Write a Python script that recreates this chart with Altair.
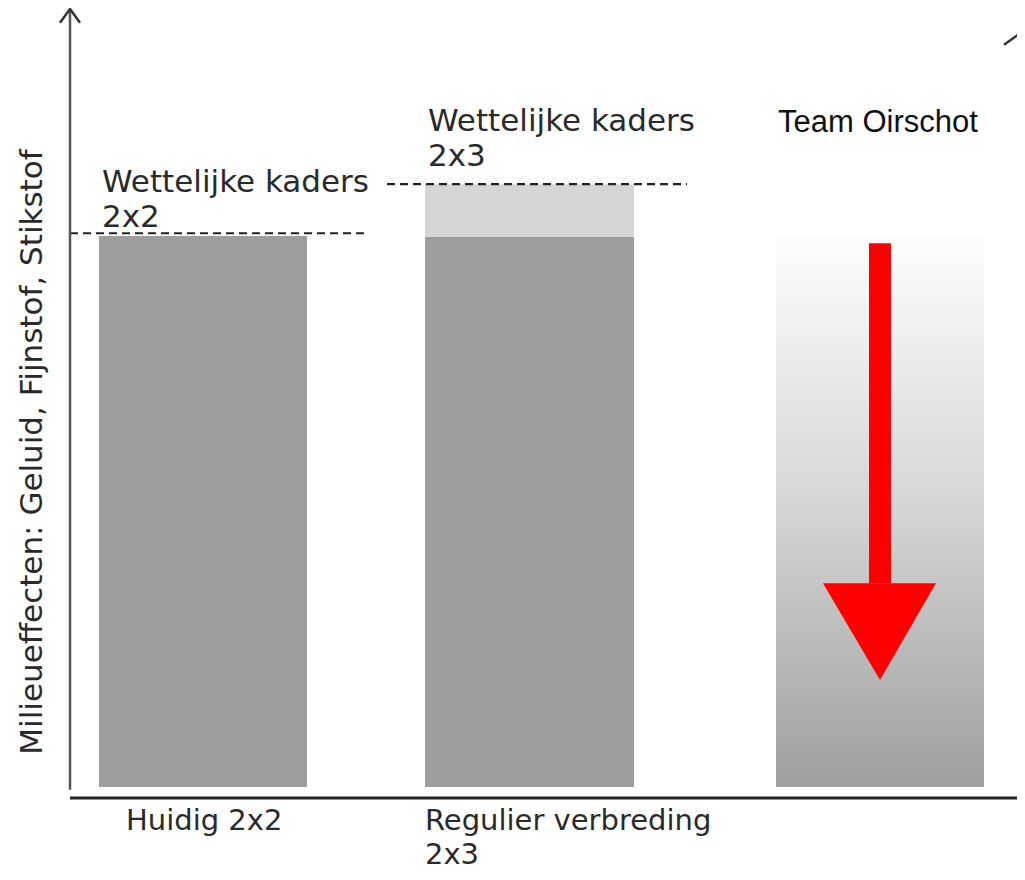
import altair as alt
import pandas as pd

# ---- data (x in page-pixel units, y in "effect" units: current situation = 100) ----
bar_names = ["Huidig 2x2", "Regulier verbreding 2x3", "Team Oirschot"]
bar_x0 = [99, 425, 776]
bar_x1 = [307, 634, 984]
bar_top = [100, 99.8, 100]

extra_names = ["Extra ruimte 2x3"]
extra_x0 = [425]
extra_x1 = [634]
extra_lo = [99.8]
extra_hi = [109.4]

limit_labels = ["Wettelijke kaders\n2x2", "Wettelijke kaders\n2x3"]
limit_value = [100.5, 109.4]
limit_x0 = [70, 387]
limit_x1 = [368, 687]
limit_label_x = [102, 428]
limit_label_y = [108.0, 119.0]

cat_labels = ["Huidig 2x2", "Regulier verbreding\n2x3"]
cat_label_x = [126, 425]
cat_label_y = [-7.8, -7.8]

team_label = ["Team Oirschot"]
team_label_x = [778]
team_label_y = [118.9]

y_title = ["Milieueffecten: Geluid, Fijnstof, Stikstof"]
y_title_x = [33]
y_title_y = [60.8]

# reduction arrow (Team Oirschot)
shaft_x0 = [869]
shaft_x1 = [891]
shaft_lo = [37.0]
shaft_hi = [98.7]
head_x = [823, 880, 936]
head_top = [37.0, 37.0, 37.0]
head_bottom = [37.0, 19.4, 37.0]

# axes
yaxis_x = [70]
yaxis_lo = [-0.5]
yaxis_hi = [141.2]
chevron_x = [60, 70, 80]
chevron_y = [138.7, 141.2, 138.7]
xaxis_y = [-2.0]
xaxis_x0 = [70]
xaxis_x1 = [1025]
corner_x = [1004, 1025]
corner_y = [134.7, 137.4]

# ---- scales ----
xs = alt.Scale(domain=[8, 1017], nice=False, zero=False)
ys = alt.Scale(domain=[-15.426, 141.379], nice=False, zero=False)
FONT = "DejaVu Sans"
TXT = "#2a2a2a"

bars_df = pd.DataFrame({"name": bar_names, "x0": bar_x0, "x1": bar_x1, "lo": [0, 0, 0], "hi": bar_top})
plain = alt.Chart(bars_df.iloc[:2]).mark_rect(color="#9d9d9d").encode(
    x=alt.X("x0:Q", scale=xs, axis=None), x2="x1:Q",
    y=alt.Y("lo:Q", scale=ys, axis=None), y2="hi:Q")

grad = alt.Gradient(gradient="linear", x1=0, x2=0, y1=0, y2=1,
                    stops=[alt.GradientStop(color="#fdfdfd", offset=0),
                           alt.GradientStop(color="#d9d9d9", offset=0.45),
                           alt.GradientStop(color="#9f9f9f", offset=1)])
team = alt.Chart(bars_df.iloc[2:]).mark_rect(color=grad).encode(
    x=alt.X("x0:Q", scale=xs, axis=None), x2="x1:Q",
    y=alt.Y("lo:Q", scale=ys, axis=None), y2="hi:Q")

extra_df = pd.DataFrame({"name": extra_names, "x0": extra_x0, "x1": extra_x1, "lo": extra_lo, "hi": extra_hi})
extra = alt.Chart(extra_df).mark_rect(color="#d5d5d5").encode(
    x=alt.X("x0:Q", scale=xs, axis=None), x2="x1:Q",
    y=alt.Y("lo:Q", scale=ys, axis=None), y2="hi:Q")

lim_df = pd.DataFrame({"label": limit_labels, "v": limit_value, "x0": limit_x0, "x1": limit_x1,
                       "lx": limit_label_x, "ly": limit_label_y})
lim_rules = alt.Chart(lim_df).mark_rule(color="#222222", strokeWidth=2.2, strokeDash=[8, 5]).encode(
    x=alt.X("x0:Q", scale=xs, axis=None), x2="x1:Q",
    y=alt.Y("v:Q", scale=ys, axis=None))
lim_text = alt.Chart(lim_df).mark_text(font=FONT, fontSize=31, color=TXT, align="left",
                                       baseline="alphabetic", lineBreak="\n", lineHeight=35).encode(
    x=alt.X("lx:Q", scale=xs, axis=None), y=alt.Y("ly:Q", scale=ys, axis=None), text="label:N")

cat_df = pd.DataFrame({"label": cat_labels, "x": cat_label_x, "y": cat_label_y})
cat_text = alt.Chart(cat_df).mark_text(font=FONT, fontSize=29, color=TXT, align="left",
                                       baseline="alphabetic", lineBreak="\n", lineHeight=34).encode(
    x=alt.X("x:Q", scale=xs, axis=None), y=alt.Y("y:Q", scale=ys, axis=None), text="label:N")

team_df = pd.DataFrame({"label": team_label, "x": team_label_x, "y": team_label_y})
team_text = alt.Chart(team_df).mark_text(font="Liberation Sans", fontSize=31, color="#111111",
                                         align="left", baseline="alphabetic").encode(
    x=alt.X("x:Q", scale=xs, axis=None), y=alt.Y("y:Q", scale=ys, axis=None), text="label:N")

yt_df = pd.DataFrame({"label": y_title, "x": y_title_x, "y": y_title_y})
yt_text = alt.Chart(yt_df).mark_text(font=FONT, fontSize=31, color=TXT, angle=270,
                                     align="center", baseline="middle").encode(
    x=alt.X("x:Q", scale=xs, axis=None), y=alt.Y("y:Q", scale=ys, axis=None), text="label:N")

shaft_df = pd.DataFrame({"x0": shaft_x0, "x1": shaft_x1, "lo": shaft_lo, "hi": shaft_hi})
shaft = alt.Chart(shaft_df).mark_rect(color="#ff0000").encode(
    x=alt.X("x0:Q", scale=xs, axis=None), x2="x1:Q",
    y=alt.Y("lo:Q", scale=ys, axis=None), y2="hi:Q")
head_df = pd.DataFrame({"x": head_x, "top": head_top, "bottom": head_bottom})
head = alt.Chart(head_df).mark_area(color="#ff0000", orient="vertical").encode(
    x=alt.X("x:Q", scale=xs, axis=None),
    y=alt.Y("top:Q", scale=ys, axis=None), y2="bottom:Q")

yax_df = pd.DataFrame({"x": yaxis_x, "lo": yaxis_lo, "hi": yaxis_hi})
yax = alt.Chart(yax_df).mark_rule(color="#555555", strokeWidth=2.5).encode(
    x=alt.X("x:Q", scale=xs, axis=None),
    y=alt.Y("lo:Q", scale=ys, axis=None), y2="hi:Q")
chev_df = pd.DataFrame({"x": chevron_x, "y": chevron_y, "o": [0, 1, 2]})
chev = alt.Chart(chev_df).mark_line(color="#333333", strokeWidth=2.5).encode(
    x=alt.X("x:Q", scale=xs, axis=None), y=alt.Y("y:Q", scale=ys, axis=None), order="o:Q")
xax_df = pd.DataFrame({"y": xaxis_y, "x0": xaxis_x0, "x1": xaxis_x1})
xax = alt.Chart(xax_df).mark_rule(color="#222222", strokeWidth=3).encode(
    x=alt.X("x0:Q", scale=xs, axis=None), x2="x1:Q",
    y=alt.Y("y:Q", scale=ys, axis=None))
corner_df = pd.DataFrame({"x": corner_x, "y": corner_y, "o": [0, 1]})
corner = alt.Chart(corner_df).mark_line(color="#333333", strokeWidth=2.5).encode(
    x=alt.X("x:Q", scale=xs, axis=None), y=alt.Y("y:Q", scale=ys, axis=None), order="o:Q")

chart = alt.layer(
    plain, extra, team, shaft, head, lim_rules, yax, chev, xax, corner,
    lim_text, cat_text, team_text, yt_text
).properties(
    width=1009, height=864,
    autosize=alt.AutoSizeParams(type="none"), padding=0
).configure_view(stroke=None)

chart.save("out.html", embed_options={"renderer": "svg", "actions": False})
